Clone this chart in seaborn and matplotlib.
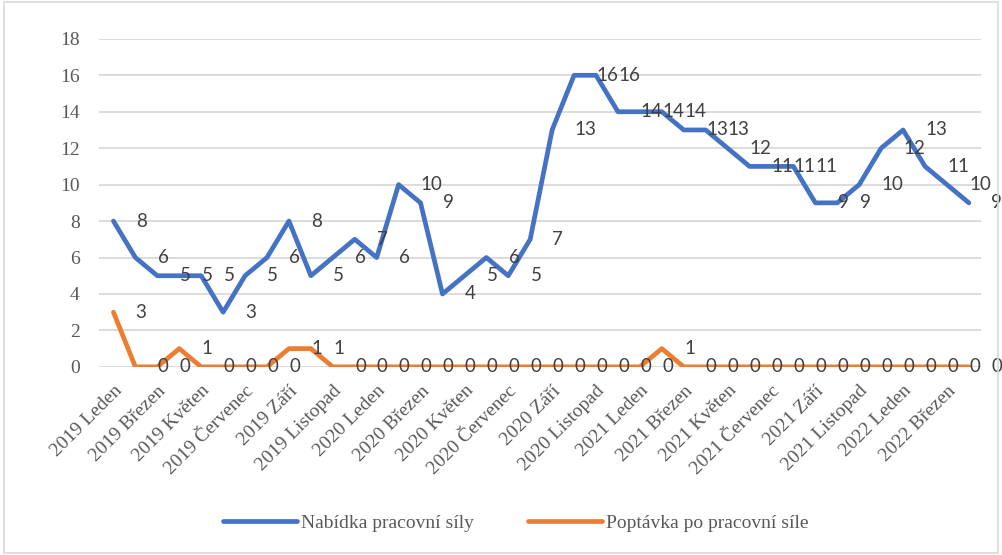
import numpy as np
import pandas as pd
import matplotlib
matplotlib.use("Agg")
import matplotlib.pyplot as plt
import seaborn as sns
from matplotlib.patches import Rectangle

# ===== DATA =====
months_cz = ["Leden", "Únor", "Březen", "Duben", "Květen", "Červen",
             "Červenec", "Srpen", "Září", "Říjen", "Listopad", "Prosinec"]
years = [2019, 2020, 2021, 2022]
periods = [f"{y} {m}" for y in years for m in months_cz][:40]

nabidka = [8, 6, 5, 5, 5, 3, 5, 6, 8, 5, 6, 7, 6, 10, 9, 4, 5, 6, 5, 7,
           13, 16, 16, 14, 14, 14, 13, 13, 12, 11, 11, 11, 9, 9, 10, 12, 13, 11, 10, 9]
poptavka = [3, 0, 0, 1, 0, 0, 0, 0, 1, 1, 0, 0, 0, 0, 0, 0, 0, 0, 0, 0,
            0, 0, 0, 0, 0, 1, 0, 0, 0, 0, 0, 0, 0, 0, 0, 0, 0, 0, 0, 0]

series_names = ["Nabídka pracovní síly", "Poptávka po pracovní síle"]
colors = ["#4472C4", "#ED7D31"]

df = pd.DataFrame({"idx": range(len(periods)), "obdobi": periods,
                   series_names[0]: nabidka, series_names[1]: poptavka})
long = df.melt(id_vars=["idx", "obdobi"], var_name="serie", value_name="hodnota")

# ===== CHART =====
sns.set_style("white")
plt.rcParams['font.family'] = ['Liberation Serif', 'DejaVu Serif']

fig = plt.figure(figsize=(10.02, 5.55), dpi=100)
ax = fig.add_axes([0.099, 0.339, 0.880, 0.591])

sns.lineplot(data=long, x="idx", y="hodnota", hue="serie", palette=colors,
             linewidth=3.4, ax=ax, legend=False)

# data labels to the right of each point
for vals in [nabidka, poptavka]:
    for i, v in enumerate(vals):
        ax.annotate(str(v), (i, v), xytext=(16, 0), textcoords="offset points",
                    ha="left", va="center", fontsize=13.5, color="#404040",
                    family=["Lato", "DejaVu Sans"], annotation_clip=False)

ax.set_xlim(-0.65, 39.55)
ax.set_ylim(0, 18)
ax.set_yticks(range(0, 19, 2))
ax.set_yticklabels([str(t) for t in range(0, 19, 2)], fontsize=14, color="#595959")
ax.set_xticks(range(0, 40, 2))
ax.set_xticklabels(periods[::2], rotation=45, ha="right", rotation_mode="anchor",
                   fontsize=14, color="#595959")
ax.tick_params(axis="y", length=0, pad=14)
ax.tick_params(axis="x", length=0, pad=11)
ax.grid(axis="y", color="#D9D9D9", linewidth=1.3)
for s in ax.spines.values():
    s.set_visible(False)
ax.set_xlabel("")
ax.set_ylabel("")

handles = [plt.Line2D([], [], color=c, linewidth=3.4) for c in colors]
fig.legend(handles, series_names, loc="center", bbox_to_anchor=(0.515, 0.058),
           ncol=2, frameon=False, fontsize=14, handlelength=3.8,
           handletextpad=0.2, columnspacing=2.8, labelcolor="#595959")

fig.add_artist(Rectangle((0.004, 0.004), 0.992, 0.992, transform=fig.transFigure,
                         fill=False, edgecolor="#D9D9D9", linewidth=1.2))

fig.savefig("out.png", dpi=100)
